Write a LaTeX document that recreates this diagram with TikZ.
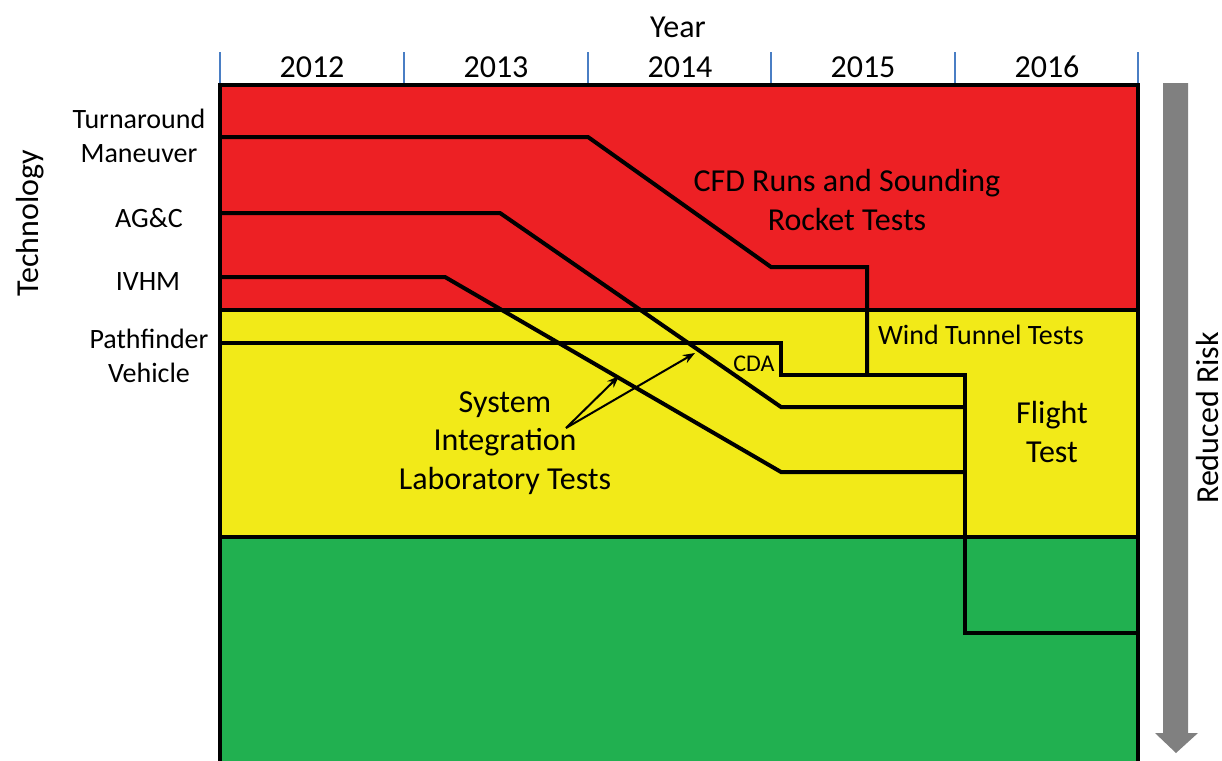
\documentclass[tikz,border=0pt]{standalone}
\usepackage{fontspec}
\setmainfont{Carlito}
\usetikzlibrary{arrows.meta}
\definecolor{riskred}{HTML}{ED2024}
\definecolor{riskyellow}{HTML}{F2EA18}
\definecolor{riskgreen}{HTML}{21B050}
\definecolor{tickblue}{HTML}{4A7EC4}
\definecolor{riskgray}{HTML}{808080}
\tikzset{
  band/.style={draw=black, line width=2pt},
  track/.style={draw=black, line width=2pt},
  yearlabel/.style={font=\fontsize{16}{19}\selectfont, inner sep=0pt},
  techlabel/.style={font=\fontsize{14}{17}\selectfont, align=center, inner sep=0pt},
  phaselabel/.style={font=\fontsize{16}{19.3}\selectfont, align=center, inner sep=0pt},
  smalllabel/.style={font=\fontsize{14}{17}\selectfont, inner sep=0pt},
  pointer/.style={draw=black, line width=1pt, -{Stealth[length=6pt,width=4.5pt]}},
  tick/.style={draw=tickblue, line width=0.6pt}
}
\begin{document}
\begin{tikzpicture}[x=0.5pt, y=-0.5pt]
\useasboundingbox (0,0) rectangle (1222,761);
\clip (0,0) rectangle (1222,761);

% risk bands
\fill[riskred]    (220,85)  rectangle (1138,310);
\fill[riskyellow] (220,310) rectangle (1138,537);
\fill[riskgreen]  (220,537) rectangle (1138,770);
\draw[band] (220,770) -- (220,85) -- (1138,85) -- (1138,770);
\draw[band] (220,310) -- (1138,310);
\draw[band] (220,537) -- (1138,537);

% year axis
\foreach \x in {220,404,588,771,955,1138}
  \draw[tick] (\x,52) -- (\x,83);
\node[yearlabel] (year) at (678,27) {Year};
\node[yearlabel] (y2012) at (312,67) {2012};
\node[yearlabel] (y2013) at (496,67) {2013};
\node[yearlabel] (y2014) at (680,67) {2014};
\node[yearlabel] (y2015) at (863,67) {2015};
\node[yearlabel] (y2016) at (1047,67) {2016};

% technology axis
\node[yearlabel, rotate=90] (tech) at (30,223) {Technology};
\node[techlabel] (turn) at (139,136) {Turnaround\\Maneuver};
\node[techlabel] (agc) at (149,218) {AG\&C};
\node[techlabel] (ivhm) at (148,282) {IVHM};
\node[techlabel] (path) at (149,356) {Pathfinder\\Vehicle};

% technology maturation tracks
\coordinate (jA) at (965,375);
\coordinate (jB) at (965,633);
\draw[track] (220,137) -- (588,137) -- (771,267) -- (867,267) -- (867,375);
\draw[track] (220,343) -- (781,343) -- (781,375) -- (jA) -- (jB) -- (1140,633);
\draw[track] (220,213) -- (500,213) -- (781,407) -- (965,407);
\draw[track] (220,277) -- (445,277) -- (781,472) -- (965,472);

% test phase labels
\node[phaselabel] (cfd) at (847,200) {CFD Runs and Sounding\\Rocket Tests};
\node[smalllabel] (wind) at (981,335) {Wind Tunnel Tests};
\node[font=\fontsize{12}{14}\selectfont, inner sep=0pt] (cda) at (754,364) {CDA};
\node[phaselabel] (flight) at (1052,432) {Flight\\Test};
\node[phaselabel] (silt) at (505,443) {System\\Integration\\Laboratory Tests};

% pointers from the laboratory label
\coordinate (ptail) at (566,428);
\coordinate (phead1) at (619,376);
\coordinate (phead2) at (695,353);
\draw[pointer] (ptail) -- (phead1);
\draw[pointer] (ptail) -- (phead2);

% reduced risk arrow
\fill[riskgray] (1163,83) -- (1188,83) -- (1188,733) -- (1198,733) -- (1176,753)
  -- (1155,733) -- (1163,733) -- cycle;
\node[yearlabel, rotate=90] (risk) at (1207,418) {Reduced Risk};
\end{tikzpicture}
\end{document}
